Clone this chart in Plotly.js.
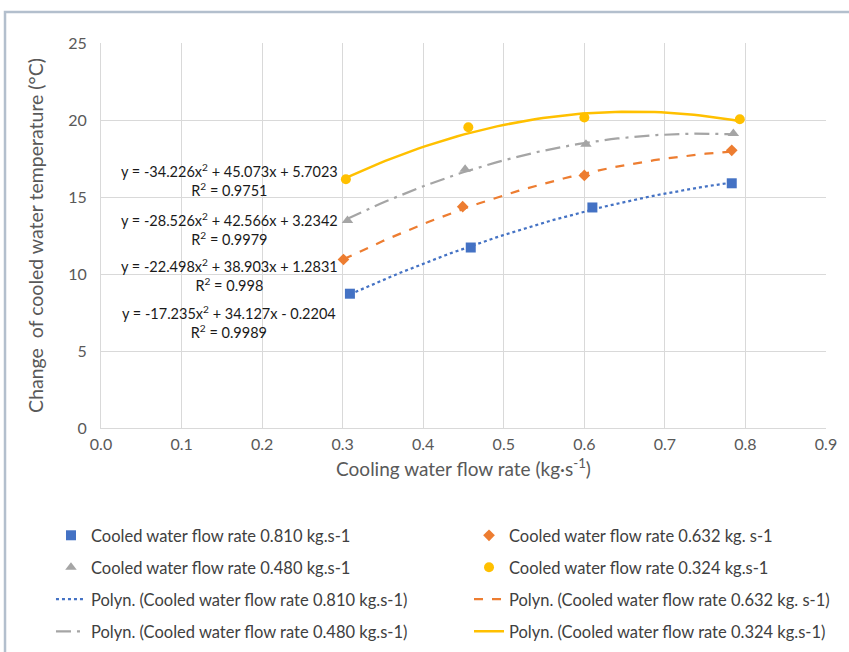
<!DOCTYPE html>
<html>
<head>
<meta charset="utf-8">
<script src="https://cdn.plot.ly/plotly-3.0.1.min.js"></script>
<style>html,body{margin:0;padding:0;background:#fff;}#chart{width:849px;height:652px;}</style>
</head>
<body>
<div id="chart"></div>
<script>
// ---- data ----
const seriesNames = [
  "Cooled water flow rate 0.810 kg.s-1",
  "Cooled water flow rate 0.632 kg. s-1",
  "Cooled water flow rate 0.480 kg.s-1",
  "Cooled water flow rate 0.324 kg.s-1"
];
const xBlue   = [0.309, 0.459, 0.610, 0.783];
const yBlue   = [8.72, 11.72, 14.32, 15.89];
const xOrange = [0.301, 0.449, 0.600, 0.783];
const yOrange = [10.94, 14.37, 16.40, 18.03];
const xGray   = [0.306, 0.452, 0.602, 0.785];
const yGray   = [13.48, 16.80, 18.42, 19.12];
const xYellow = [0.304, 0.456, 0.600, 0.793];
const yYellow = [16.15, 19.53, 20.16, 20.05];

// polynomial trendline coefficients printed on the chart [a, b, c] for y = a x^2 + b x + c
const coefBlue   = [-17.235, 34.127, -0.2204];
const coefOrange = [-22.498, 38.903, 1.2831];
const coefGray   = [-28.526, 42.566, 3.2342];
const coefYellow = [-34.226, 45.073, 5.7023];
const r2Values   = ["0.9989", "0.998", "0.9979", "0.9751"];

const xTicks = [0, 0.1, 0.2, 0.3, 0.4, 0.5, 0.6, 0.7, 0.8, 0.9];
const yTicks = [0, 5, 10, 15, 20, 25];

const colors = ["#4472C4", "#ED7D31", "#A5A5A5", "#FFC000"];
const symbols = ["square", "diamond", "triangle-up", "circle"];
const dashes = ["dot", "dash", "longdashdot", "solid"];

const xs = [xBlue, xOrange, xGray, xYellow];
const ys = [yBlue, yOrange, yGray, yYellow];
const coefs = [coefBlue, coefOrange, coefGray, coefYellow];

function trendCurve(xd, c) {
  const x0 = Math.min(...xd), x1 = Math.max(...xd);
  const tx = [], ty = [];
  for (let i = 0; i <= 60; i++) {
    const x = x0 + (x1 - x0) * i / 60;
    tx.push(x); ty.push(c[0] * x * x + c[1] * x + c[2]);
  }
  return {tx, ty};
}

const markerSizes = [10, 9, 10, 10];
// legend slot for each entry: markers first (2 per row), then trendlines
const legendNames = ["legend", "legend2", "legend3", "legend4", "legend5", "legend6", "legend7", "legend8"];

const traces = [];
for (let i = 0; i < 4; i++) {
  traces.push({
    x: xs[i], y: ys[i], type: "scatter", mode: "markers", name: seriesNames[i],
    legend: legendNames[i],
    marker: {color: colors[i], symbol: symbols[i], size: markerSizes[i]}
  });
}
for (let i = 0; i < 4; i++) {
  const t = trendCurve(xs[i], coefs[i]);
  traces.push({
    x: t.tx, y: t.ty, type: "scatter", mode: "lines", name: "Polyn. (" + seriesNames[i] + ")",
    legend: legendNames[4 + i],
    line: {color: colors[i], dash: dashes[i], width: i === 3 ? 2.5 : 2.25}
  });
}

function fmt(v) { return Math.abs(v).toString(); }
function eqText(c, r2) {
  return "y = " + (c[0] < 0 ? "-" : "") + fmt(c[0]) + "x<sup>2</sup> " + (c[1] < 0 ? "- " : "+ ") + fmt(c[1]) +
    "x " + (c[2] < 0 ? "- " : "+ ") + fmt(c[2]) + "<br>R<sup>2</sup> = " + r2;
}

const eqY = [6.87, 9.93, 12.89, 16.08];
const annotations = [];
for (let i = 0; i < 4; i++) {
  annotations.push({
    x: 0.159, y: eqY[i], xref: "x", yref: "y", showarrow: false,
    text: eqText(coefs[i], r2Values[i]), align: "center",
    font: {family: "Lato, 'Open Sans', sans-serif", size: 14.5, color: "#1a1a1a"}
  });
}

const legFont = {family: "Lato, 'Open Sans', sans-serif", size: 16.5, color: "#404040"};
function legendAt(x, y) {
  return {orientation: "v", xref: "paper", yref: "container",
    x: x, xanchor: "left", y: y, yanchor: "middle",
    font: legFont, bgcolor: "rgba(0,0,0,0)", borderwidth: 0, itemclick: false};
}
const colX = [-0.069, 0.5076];
const rowY = [0.1786, 0.1296, 0.0805, 0.0314];

const layout = {
  width: 849, height: 652,
  margin: {l: 101, r: 23, t: 43, b: 224},
  paper_bgcolor: "#ffffff", plot_bgcolor: "#ffffff",
  font: {family: "Lato, 'Open Sans', sans-serif", color: "#595959"},
  xaxis: {
    range: [0, 0.9], tickvals: xTicks, ticktext: xTicks.map(v => v.toFixed(1)),
    showgrid: true, gridcolor: "#D9D9D9", gridwidth: 1, zeroline: false,
    showline: true, linecolor: "#D9D9D9", linewidth: 1, ticks: "",
    ticklabelstandoff: 2,
    tickfont: {size: 16, color: "#595959"},
    title: {text: "Cooling water flow rate (kg·s<sup>-1</sup>)", standoff: 10,
      font: {size: 19, color: "#595959"}}
  },
  yaxis: {
    range: [0, 25], tickvals: yTicks,
    showgrid: true, gridcolor: "#D9D9D9", gridwidth: 1, zeroline: false,
    showline: true, linecolor: "#D9D9D9", linewidth: 1, ticks: "", ticklen: 0,
    ticklabelstandoff: 10,
    tickfont: {size: 16, color: "#595959"},
    title: {text: "Change&nbsp; of cooled water temperature (°C)", standoff: 19,
      font: {size: 19.5, color: "#595959"}}
  },
  showlegend: true,
  annotations: annotations,
  shapes: [{
    type: "rect", xref: "paper", yref: "paper",
    x0: -0.1324, x1: 1.5, y0: -1.0, y1: 1.0805,
    line: {color: "#B3BFCD", width: 2.5}, fillcolor: "rgba(0,0,0,0)", layer: "below"
  }]
};
// markers: row0 (blue, orange), row1 (gray, yellow); trendlines: row2, row3
for (let k = 0; k < 8; k++) {
  const row = Math.floor(k / 2), col = k % 2;
  layout[legendNames[k]] = legendAt(colX[col], rowY[row]);
}

Plotly.newPlot("chart", traces, layout, {displayModeBar: false, staticPlot: true});
</script>
</body>
</html>
